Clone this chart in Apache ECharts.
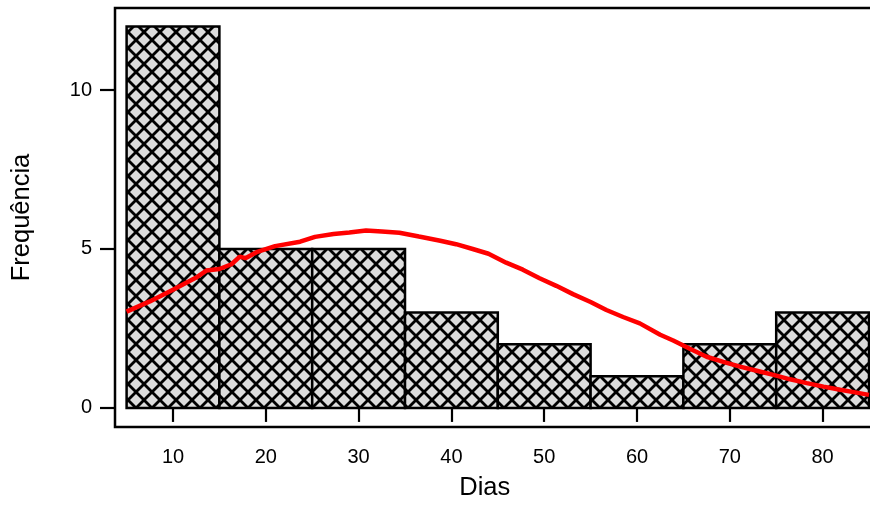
<!DOCTYPE html>
<html>
<head>
<meta charset="utf-8">
<script src="https://cdn.jsdelivr.net/npm/echarts@6/dist/echarts.min.js"></script>
<style>
html,body{margin:0;padding:0;background:#fff;}
#chart{width:870px;height:507px;}
</style>
</head>
<body>
<div id="chart"></div>
<script>
// Histogram bins (Dias)
const binStarts = [5, 15, 25, 35, 45, 55, 65, 75];
const binEnds   = [15, 25, 35, 45, 55, 65, 75, 85];
const frequencies = [12, 5, 5, 3, 2, 1, 2, 3];

// Density curve (scaled to frequency)
const curveX = [5, 7.5, 10, 12.5, 13.6, 15, 16.3, 17.2, 17.8, 19, 21, 23.7, 25.3, 27.3, 29, 30.8, 32.5, 34.4, 36.5, 38.8, 40.5, 42.3, 44, 45.9, 47.7, 49.5, 51.3, 53.1, 55, 56.7, 58.5, 60.3, 62.5, 63.9, 65.7, 67.5, 69.3, 71.1, 72.9, 74.7, 76.5, 78.3, 80.1, 81.9, 83.5, 85];
const curveY = [3.03, 3.35, 3.72, 4.10, 4.32, 4.37, 4.52, 4.76, 4.71, 4.90, 5.09, 5.23, 5.38, 5.47, 5.52, 5.58, 5.55, 5.51, 5.39, 5.26, 5.15, 5.00, 4.85, 4.57, 4.35, 4.08, 3.84, 3.58, 3.33, 3.08, 2.86, 2.66, 2.30, 2.12, 1.86, 1.61, 1.45, 1.30, 1.17, 1.04, 0.90, 0.78, 0.67, 0.57, 0.49, 0.41];

// Tick labels
const xTicks = [10, 20, 30, 40, 50, 60, 70, 80];
const yTicks = [0, 5, 10];

// Crosshatch pattern tile
const tile = document.createElement('canvas');
const T = 16;
tile.width = T; tile.height = T;
const g = tile.getContext('2d');
g.fillStyle = '#dcdcdc';
g.fillRect(0, 0, T, T);
g.strokeStyle = '#000';
g.lineWidth = 2.8;
for (const off of [-T, 0, T]) {
  g.beginPath(); g.moveTo(-3 + off, -3); g.lineTo(T + 3 + off, T + 3); g.stroke();
  g.beginPath(); g.moveTo(T + 3 + off, -3); g.lineTo(-3 + off, T + 3); g.stroke();
}
const hatch = { image: tile, repeat: 'repeat' };

const histData = binStarts.map((s, i) => [s, binEnds[i], frequencies[i]]);
const curveData = curveX.map((x, i) => [x, curveY[i]]);

const font = 'Liberation Sans, Arial, Helvetica, sans-serif';
const chart = echarts.init(document.getElementById('chart'), null, { renderer: 'canvas' });
chart.setOption({
  animation: false,
  backgroundColor: '#fff',
  grid: {
    left: 115, top: 8, width: 765.6, height: 419,
    outerBoundsMode: 'none', containLabel: false,
    show: true, borderColor: '#000', borderWidth: 2.5, backgroundColor: 'transparent'
  },
  xAxis: {
    type: 'value', min: 3.75, max: 86.25,
    name: 'Dias', nameLocation: 'middle', nameGap: 48,
    nameTextStyle: { fontSize: 25.5, color: '#000', fontFamily: font, padding: [0, 26, 0, 0] },
    axisLine: { show: false },
    splitLine: { show: false },
    axisTick: { show: true, inside: false, length: 14, customValues: xTicks, lineStyle: { color: '#000', width: 2.2 } },
    axisLabel: { show: true, customValues: xTicks, margin: 20, fontSize: 20, color: '#000', fontFamily: font }
  },
  yAxis: {
    type: 'value', min: -0.6, max: 12.58,
    name: 'Frequência', nameLocation: 'middle', nameGap: 80,
    nameTextStyle: { fontSize: 25.5, color: '#000', fontFamily: font },
    axisLine: { show: false },
    splitLine: { show: false },
    axisTick: { show: true, inside: false, length: 15, customValues: yTicks, lineStyle: { color: '#000', width: 2.2 } },
    axisLabel: { show: true, customValues: yTicks, margin: 23, fontSize: 20, color: '#000', fontFamily: font }
  },
  series: [
    {
      type: 'custom',
      data: histData,
      clip: true,
      renderItem: function (params, api) {
        const p0 = api.coord([api.value(0), api.value(2)]);
        const p1 = api.coord([api.value(1), 0]);
        return {
          type: 'rect',
          shape: { x: p0[0], y: p0[1], width: p1[0] - p0[0], height: p1[1] - p0[1] },
          style: { fill: hatch, stroke: '#000', lineWidth: 2.5 }
        };
      },
      z: 2
    },
    {
      type: 'line',
      data: curveData,
      showSymbol: false,
      smooth: false,
      clip: true,
      lineStyle: { color: '#ff0000', width: 4.5 },
      z: 3
    }
  ]
});
</script>
</body>
</html>
